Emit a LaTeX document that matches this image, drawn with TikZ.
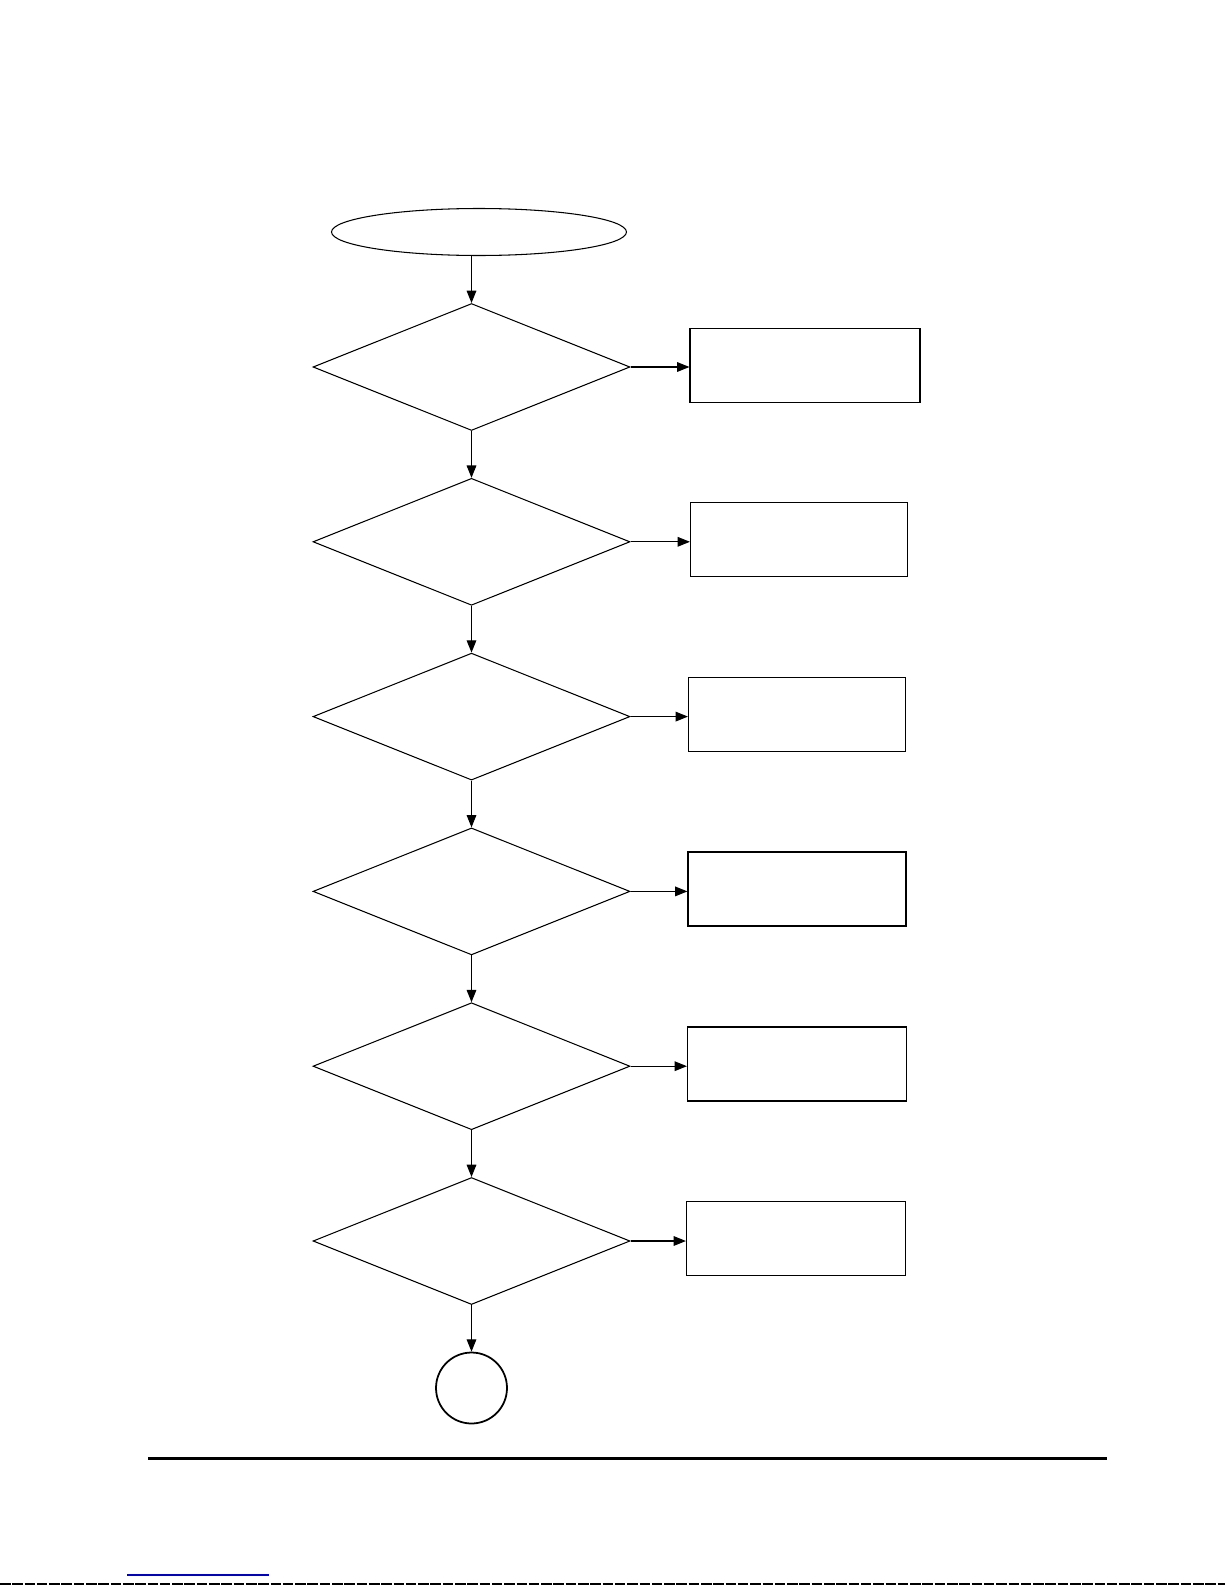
\documentclass[tikz,border=0pt]{standalone}
\usetikzlibrary{shapes.geometric,arrows.meta}

\tikzset{
    arr/.style={-{Triangle[length=7pt,width=5.5pt]},line width=0.6pt},
    testbox/.style={diamond,draw,line width=0.6pt,inner sep=0pt,
        minimum width=6.34cm,minimum height=2.54cm},
    actbox/.style={rectangle,draw,line width=0.7pt,inner sep=0pt,minimum height=1.48cm}
}

\begin{document}
\begin{tikzpicture}[x=0.02cm,y=-0.02cm]

\useasboundingbox (0,0) rectangle (1225,1585);

% Start
\node[ellipse,draw,line width=0.6pt,minimum width=5.9cm,minimum height=0.94cm] (start) at (479,232) {};

% Checks and actions
\foreach \i/\y/\rx/\ry/\rw in {1/367/805/365.5/4.6,2/541.8/799/539.5/4.34,3/716.6/797/714.5/4.34,4/891.4/797/889/4.36,5/1066.2/797/1064/4.38,6/1241/796/1238.7/4.38}{
    \node[testbox] (d\i) at (471.5,\y) {};
    \node[actbox,minimum width=\rw cm] (r\i) at (\rx,\ry) {};
    \draw[arr] (d\i.east) -- (d\i.east -| r\i.west);
}

% Vertical flow
\draw[arr] (d1.north |- start.south) -- (d1.north);
\foreach \i/\j in {1/2,2/3,3/4,4/5,5/6}{
    \draw[arr] (d\i.south) -- (d\j.north);
}

% Connector
\node[circle,draw,line width=1pt,minimum size=1.42cm,inner sep=0pt] (con) at (471.5,1388) {};
\draw[arr] (d6.south) -- (con.north);

% Footer rule
\coordinate (fl) at (148,1458.5);
\coordinate (fr) at (1107,1458.5);
\draw[line width=1.6pt] (fl) -- (fr);

% Page edge marks
\coordinate (bl) at (127,1575);
\coordinate (br) at (269,1575);
\draw[blue!80!black,line width=0.8pt] (bl) -- (br);
\coordinate (el) at (0,1584);
\coordinate (er) at (1225,1584);
\draw[line width=0.6pt,dash pattern=on 6pt off 1pt] (el) -- (er);

\end{tikzpicture}
\end{document}
